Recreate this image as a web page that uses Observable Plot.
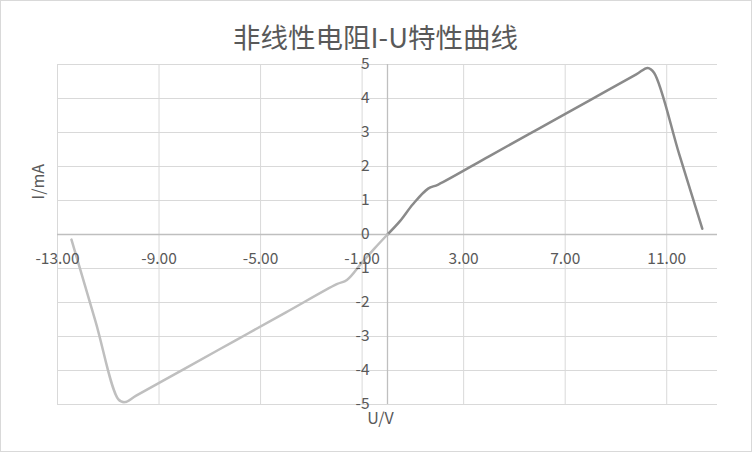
<!DOCTYPE html>
<html>
<head>
<meta charset="utf-8">
<script src="https://cdn.jsdelivr.net/npm/d3@7"></script>
<script src="https://cdn.jsdelivr.net/npm/@observablehq/plot@0.6"></script>
<style>
  html, body { margin: 0; padding: 0; background: #fff; }
  #wrap { position: relative; width: 752px; height: 452px; overflow: hidden; }
  #border { position: absolute; left: 0; top: 0; width: 752px; height: 452px; box-sizing: border-box; border: 1px solid #d9d9d9; pointer-events: none; }
  #chart svg { display: block; }
</style>
</head>
<body>
<div id="wrap"><div id="chart"></div><div id="border"></div></div>
<script>
const title = "非线性电阻I-U特性曲线";
const xLabel = "U/V";
const yLabel = "I/mA";
const xTicks = [-13, -9, -5, -1, 3, 7, 11];
const yTicks = [-5, -4, -3, -2, -1, 0, 1, 2, 3, 4, 5];

// positive voltage branch (darker gray)
const posU = [0, 0.5, 1.0, 1.6, 2.0, 4.0, 6.0, 8.0, 9.8, 10.25, 10.5, 11.5, 12.4];
const posI = [0, 0.40, 0.89, 1.35, 1.47, 2.30, 3.13, 3.96, 4.71, 4.90, 4.76, 2.34, 0.17];
// negative voltage branch (lighter gray)
const negU = [-12.45, -11.5, -10.6, -10.35, -9.9, -8.0, -6.0, -4.0, -2.0, -1.6, -1.0, -0.5, 0];
const negI = [-0.15, -2.56, -4.85, -4.93, -4.74, -3.95, -3.12, -2.29, -1.46, -1.34, -0.82, -0.40, 0];

const pos = posU.map((u, i) => ({u, i: posI[i]}));
const neg = negU.map((u, i) => ({u, i: negI[i]}));

const font = "'Noto Sans CJK SC', 'Noto Sans', sans-serif";
const textColor = "#595959";

const chart = Plot.plot({
  width: 752,
  height: 452,
  marginLeft: 57,
  marginRight: 35,
  marginTop: 64,
  marginBottom: 48,
  style: {fontFamily: font, background: "transparent", overflow: "visible"},
  x: {domain: [-13, 13], axis: null},
  y: {domain: [-5, 5], axis: null},
  marks: [
    Plot.gridX(xTicks, {stroke: "#d9d9d9", strokeOpacity: 1, strokeWidth: 1}),
    Plot.gridY(yTicks, {stroke: "#d9d9d9", strokeOpacity: 1, strokeWidth: 1}),
    Plot.ruleY([0], {stroke: "#bfbfbf", strokeWidth: 1.3}),
    Plot.ruleX([0], {stroke: "#bfbfbf", strokeWidth: 1.3}),
    Plot.line(pos, {x: "u", y: "i", stroke: "#8a8a8a", strokeWidth: 2.5, curve: "catmull-rom"}),
    Plot.line(neg, {x: "u", y: "i", stroke: "#bfbfbf", strokeWidth: 2.5, curve: "catmull-rom"}),
    Plot.text(xTicks, {x: d => d, y: 0, text: d => d.toFixed(2), dy: 25, fill: textColor, fontSize: 15.5}),
    Plot.text(yTicks, {x: 0, y: d => d, text: d => String(d), dx: -18, textAnchor: "end", fill: textColor, fontSize: 15.5}),
    Plot.text([title], {frameAnchor: "top", dy: -36, dx: -12, fill: textColor, fontSize: 27.5, text: d => d}),
    Plot.text([yLabel], {frameAnchor: "left", dx: -19, dy: -35, rotate: -90, fill: textColor, fontSize: 16, text: d => d}),
    Plot.text([xLabel], {frameAnchor: "bottom", dx: -7, dy: 19, fill: textColor, fontSize: 16, text: d => d})
  ]
});
document.getElementById("chart").appendChild(chart);
</script>
</body>
</html>
